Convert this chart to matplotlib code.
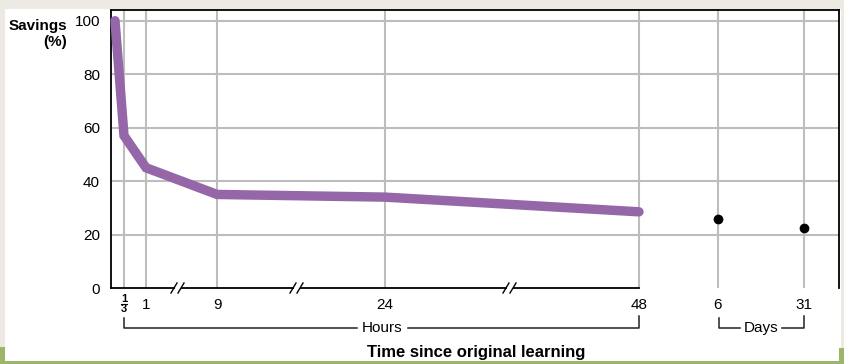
import matplotlib as mpl
mpl.use('agg')

import numpy as np
import matplotlib.pyplot as plt
from matplotlib.lines import Line2D
from matplotlib.patches import Rectangle

# Data: Ebbinghaus forgetting curve
hours = [0, 1/3, 1, 9, 24, 48]
savings_hours = [100, 57, 45, 35, 34, 28.5]
days = [6, 31]
savings_days = [26, 22.5]

hour_ticks = [1/3, 1, 9, 24, 48]
hour_labels = ['', '1', '9', '24', '48']   # the 1/3 label is drawn as a stacked fraction
day_labels = ['6', '31']

plt.rcParams['font.family'] = ['Liberation Sans', 'DejaVu Sans']

W, H = 844, 364
fig = plt.figure(figsize=(W / 100, H / 100), dpi=100)
fig.patch.set_facecolor('#edeae3')


def fx(x):
    return x / W


def fy(y):
    return 1 - y / H


# page frame: white panel and green strips
fig.add_artist(Rectangle((fx(5), fy(361)), fx(836), 352 / H, transform=fig.transFigure,
                         facecolor='white', edgecolor='none', zorder=-10))
fig.add_artist(Rectangle((0, 0), 1, 3 / H, transform=fig.transFigure,
                         facecolor='#9bb56a', edgecolor='none', zorder=-9))
fig.add_artist(Rectangle((fx(839), 0), fx(5), 16 / H, transform=fig.transFigure,
                         facecolor='#9bb56a', edgecolor='none', zorder=-9))
fig.add_artist(Rectangle((0, 0), fx(5), 17 / H, transform=fig.transFigure,
                         facecolor='#9bb56a', edgecolor='none', zorder=-9))

ax = fig.add_axes([fx(111), fy(288), fx(728), 278 / H])
ax.set_facecolor('none')

# broken time axis: piecewise-linear mapping of hours to position
anchor_h = np.array([-1, 0, 1/3, 1, 9, 24, 48, 144, 744, 1000])
anchor_p = np.array([88, 115, 124, 146, 217, 385, 639, 718, 804, 839], dtype=float)


def fwd(h):
    return np.interp(h, anchor_h, anchor_p)


def inv(p):
    return np.interp(p, anchor_p, anchor_h)


ax.set_xscale('function', functions=(fwd, inv))
ax.set_xlim(inv(111), 1000)
ax.set_ylim(0, 104)

day_hours = [d * 24 for d in days]
all_ticks = hour_ticks + day_hours

# grid
for yv in [20, 40, 60, 80, 100]:
    ax.axhline(yv, color='#bdbdbd', lw=1.5, zorder=0)
for xv in all_ticks:
    ax.axvline(xv, color='#bdbdbd', lw=1.5, zorder=0)

ax.plot(hours, savings_hours, color='#9567a9', lw=6.8, solid_capstyle='round',
        solid_joinstyle='miter', clip_on=False, zorder=3)
ax.plot(day_hours, savings_days, 'o', color='black', ms=6, zorder=4)

ax.set_yticks([0, 20, 40, 60, 80, 100])
ax.tick_params(axis='y', length=0, pad=8, labelsize=11)
ax.set_xticks(all_ticks)
ax.set_xticklabels(hour_labels + day_labels)
ax.tick_params(axis='x', length=0, pad=7, labelsize=11)

# stacked 1/3 label under its tick
frac_tr = mpl.transforms.blended_transform_factory(ax.transData, fig.transFigure)
fig.text(hour_ticks[0], fy(299), '1', transform=frac_tr, ha='center', va='center',
         fontsize=8, fontweight='bold')
fig.text(hour_ticks[0], fy(309), '3', transform=frac_tr, ha='center', va='center',
         fontsize=8, fontweight='bold')
fig.add_artist(Line2D([fx(121), fx(127)], [fy(304), fy(304)], transform=fig.transFigure,
                      color='black', lw=0.8))

for s in ['left', 'right', 'top', 'bottom']:
    ax.spines[s].set_linewidth(1.3)
ax.spines['bottom'].set_bounds(inv(111), 48)

# axis break marks
for bx in [178, 297, 510]:
    fig.add_artist(Rectangle((fx(bx - 3), fy(290)), fx(6), 4 / H, transform=fig.transFigure,
                             facecolor='white', edgecolor='none', zorder=5))
    for dx in [-4, 3]:
        fig.add_artist(Line2D([fx(bx + dx - 3), fx(bx + dx + 3)], [fy(293), fy(283)],
                              transform=fig.transFigure, color='black', lw=1, zorder=6))

# brackets
kw = dict(transform=fig.transFigure, color='#222222', lw=1.1)
fig.add_artist(Line2D([fx(124), fx(124), fx(357)], [fy(318), fy(328), fy(328)], **kw))
fig.add_artist(Line2D([fx(408), fx(639), fx(639)], [fy(328), fy(328), fy(316)], **kw))
fig.text(fx(382), fy(328), 'Hours', ha='center', va='center', fontsize=11)
fig.add_artist(Line2D([fx(719), fx(719), fx(740)], [fy(318), fy(328), fy(328)], **kw))
fig.add_artist(Line2D([fx(782), fx(804), fx(804)], [fy(328), fy(328), fy(316)], **kw))
fig.text(fx(761), fy(328), 'Days', ha='center', va='center', fontsize=11)

fig.text(fx(476), fy(353), 'Time since original learning', ha='center', va='center',
         fontsize=12, fontweight='bold')
fig.text(fx(67), fy(34), 'Savings\n(%)', ha='right', va='center', fontsize=11,
         fontweight='bold', linespacing=1.2)

plt.savefig('out.png', dpi=100, facecolor=fig.get_facecolor())
